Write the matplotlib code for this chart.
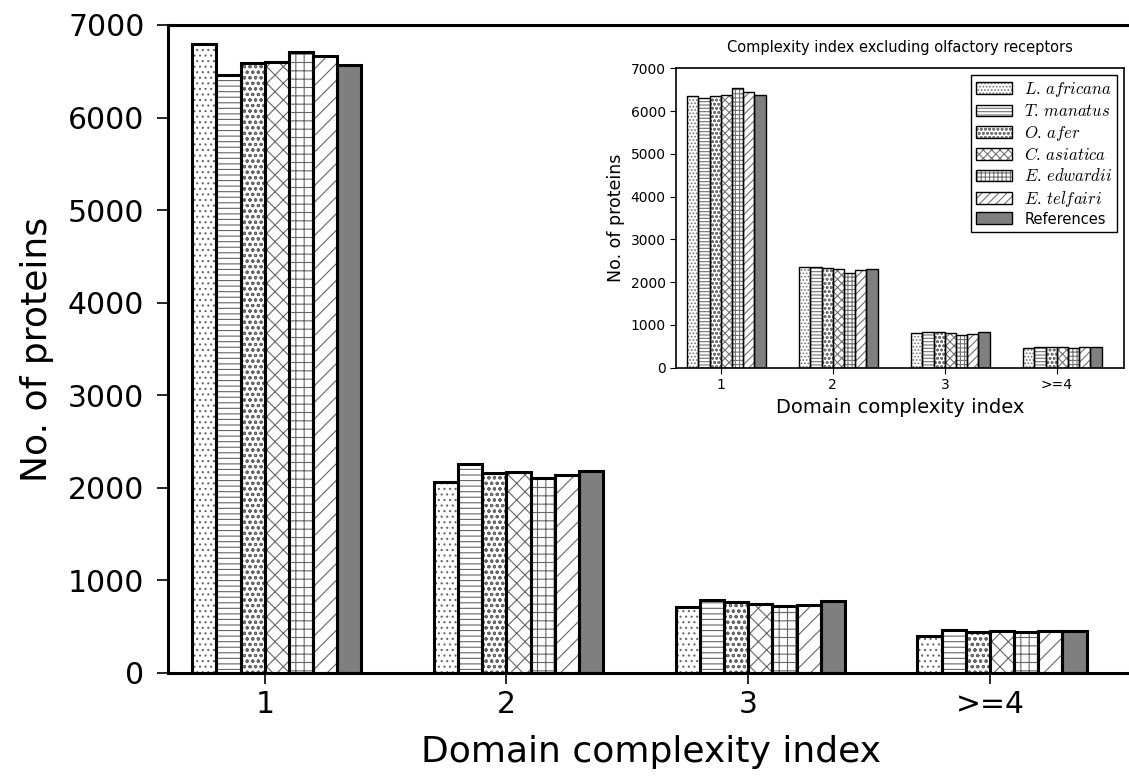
import numpy as np
import matplotlib
matplotlib.use('Agg')
import matplotlib.pyplot as plt
from matplotlib.patches import Patch
from matplotlib.legend_handler import HandlerTuple

plt.rcParams['mathtext.fontset'] = 'cm'
plt.rcParams['hatch.linewidth'] = 0.8

# categories and species
categories = ['1', '2', '3', '>=4']
species = [r'$L.\,africana$', r'$T.\,manatus$', r'$O.\,afer$', r'$C.\,asiatica$',
           r'$E.\,edwardii$', r'$E.\,telfairi$', 'References']

# all proteins (main panel), one list per species, values per complexity index
main_vals = [
    [6800, 2065, 710, 398],
    [6462, 2260, 792, 462],
    [6592, 2162, 764, 448],
    [6603, 2170, 750, 455],
    [6710, 2108, 721, 438],
    [6660, 2141, 731, 452],
    [6567, 2180, 775, 455],
]

# excluding olfactory receptors (inset)
inset_vals = [
    [6355, 2345, 820, 452],
    [6310, 2352, 843, 483],
    [6340, 2322, 843, 483],
    [6380, 2313, 812, 483],
    [6545, 2222, 760, 452],
    [6450, 2275, 783, 475],
    [6380, 2298, 828, 483],
]

main_hatch = ['...', '---', 'ooo', 'xx', '++', '//', None]
inset_hatch = ['.....', '-----', 'oooo', 'xxxx', '++++', '////', None]
ref_color = '#7f7f7f'

x = np.arange(1, len(categories) + 1)
width = 0.1


def draw_bars(ax, vals, hatches, lw, hatch_col):
    handles = []
    for i, v in enumerate(vals):
        pos = x - 0.3 + i * width
        if hatches[i] is None:
            ax.bar(pos, v, width, align='edge', color=ref_color,
                   edgecolor='black', linewidth=lw, zorder=2)
            handles.append(Patch(facecolor=ref_color, edgecolor='black', linewidth=lw))
        else:
            # hatch layer in grey, outline drawn on top in black
            ax.bar(pos, v, width, align='edge', color='white', hatch=hatches[i],
                   edgecolor=hatch_col, linewidth=0, zorder=2)
            ax.bar(pos, v, width, align='edge', fill=False,
                   edgecolor='black', linewidth=lw, zorder=3)
            handles.append((Patch(facecolor='white', hatch=hatches[i], edgecolor=hatch_col, linewidth=0),
                            Patch(fill=False, edgecolor='black', linewidth=lw)))
    return handles


fig = plt.figure(figsize=(11.29, 7.81), dpi=100)

# main axes
ax = fig.add_axes([0.1488, 0.1383, 0.8565, 0.8297])
draw_bars(ax, main_vals, main_hatch, 2.2, '0.4')
ax.set_xlim(0.6, 4.6)
ax.set_ylim(0, 7000)
ax.set_yticks(np.arange(0, 7001, 1000))
ax.set_xticks(x)
ax.set_xticklabels(categories)
ax.tick_params(direction='out', length=8, width=1.2, labelsize=21.5)
ax.tick_params(axis='y', pad=9)
ax.tick_params(axis='x', pad=4)
for s in ax.spines.values():
    s.set_linewidth(2.2)
ax.set_ylabel('No. of proteins', fontsize=26, labelpad=10)
ax.set_xlabel('Domain complexity index', fontsize=26, labelpad=12)

# inset axes
ins = fig.add_axes([0.5988, 0.5292, 0.3968, 0.3834])
handles = draw_bars(ins, inset_vals, inset_hatch, 1.0, '0.45')
ins.set_xlim(0.6, 4.6)
ins.set_ylim(0, 7000)
ins.set_yticks(np.arange(0, 7001, 1000))
ins.set_xticks(x)
ins.set_xticklabels(categories)
ins.tick_params(direction='out', length=4, width=0.8, labelsize=10)
for s in ins.spines.values():
    s.set_linewidth(1.2)
ins.set_title('Complexity index excluding olfactory receptors', fontsize=10.5, pad=12)
ins.set_ylabel('No. of proteins', fontsize=12.5)
ins.set_xlabel('Domain complexity index', fontsize=14)
leg = ins.legend(handles, species, handler_map={tuple: HandlerTuple(ndivide=1)},
                 loc='upper right', fontsize=12, labelspacing=0.2, handlelength=2.2,
                 handletextpad=0.7, borderpad=0.3,
                 fancybox=False, edgecolor='black', framealpha=1, borderaxespad=0.4)
leg.get_texts()[-1].set_fontsize(10.5)
leg.get_frame().set_linewidth(1.0)

fig.savefig('out.png', dpi=100)
